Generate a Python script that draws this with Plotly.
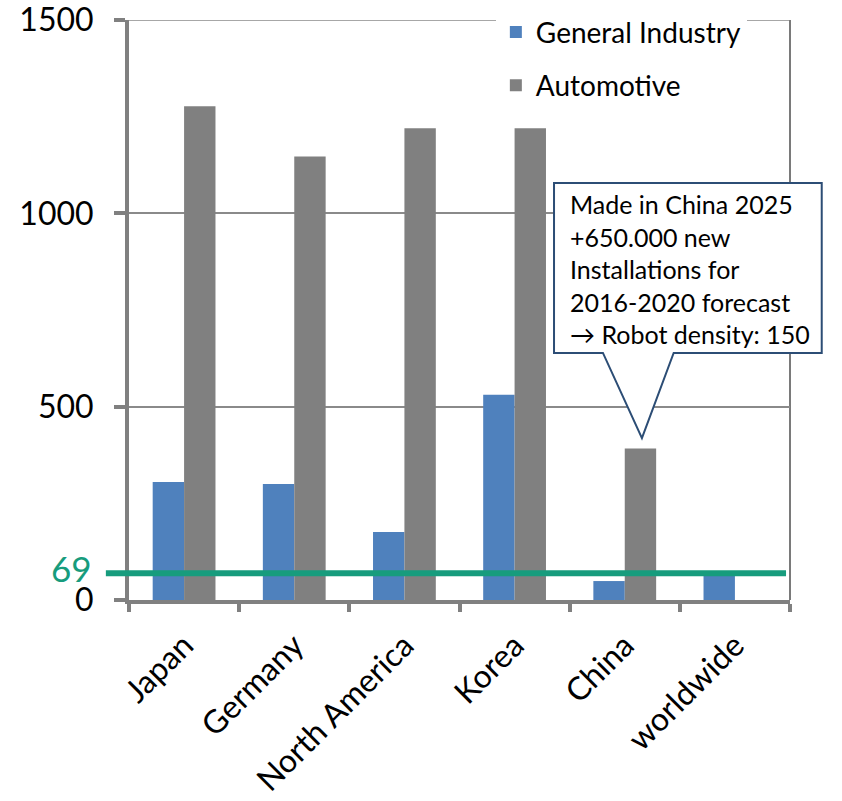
import plotly.graph_objects as go

# Robot density (robots per 10,000 employees) by region and sector
categories = ["Japan", "Germany", "North America", "Korea", "China", "worldwide"]
general_industry = [305, 300, 176, 531, 49, 69]
automotive = [1277, 1147, 1220, 1220, 392, None]
worldwide_average = 69
y_ticks = [0, 500, 1000, 1500]

callout_text = ("Made in China 2025<br>+650.000 new<br>Installations for<br>"
                "2016-2020 forecast<br>\u2192 Robot density: 150")

FONT = "Lato, Calibri, 'Open Sans', sans-serif"
BLUE = "#4F81BD"
GRAY = "#808080"
TEAL = "#179C7D"
AXIS = "#808080"
GRID = "#8a8a8a"

fig = go.Figure()
fig.add_trace(go.Bar(x=categories, y=general_industry, name="General Industry",
                     marker=dict(color=BLUE, line=dict(width=0)),
                     legendgroup="gi"))
fig.add_trace(go.Bar(x=categories, y=automotive, name="Automotive",
                     marker=dict(color=GRAY, line=dict(width=0)),
                     legendgroup="auto"))

# worldwide average reference line
fig.add_shape(type="line", xref="x domain", yref="y",
              x0=-0.035, x1=0.994, y0=worldwide_average, y1=worldwide_average,
              line=dict(color=TEAL, width=6), layer="above")
fig.add_annotation(xref="x domain", yref="y", x=-0.053, y=worldwide_average,
                   yshift=5,
                   text=str(worldwide_average), showarrow=False,
                   xanchor="right", yanchor="middle",
                   font=dict(family=FONT, size=35, color=TEAL))

# top and right frame lines
fig.add_shape(type="line", xref="x domain", yref="y",
              x0=0, x1=1, y0=1500, y1=1500,
              line=dict(color=GRID, width=1.5), layer="below")
fig.add_shape(type="line", xref="x domain", yref="y",
              x0=1, x1=1, y0=0, y1=1500,
              line=dict(color="#7a7a7a", width=2), layer="below")

# callout box with pointer towards China
bx0, bx1, by0, by1 = 0.643, 1.048, 0.426, 0.719
px0, px1, tipx, tipy = 0.717, 0.824, 0.776, 0.279
path = (f"M{bx0},{by1} L{bx1},{by1} L{bx1},{by0} L{px1},{by0} "
        f"L{tipx},{tipy} L{px0},{by0} L{bx0},{by0} Z")
fig.add_shape(type="path", xref="paper", yref="paper", path=path,
              fillcolor="white", line=dict(color="#2C4D75", width=2),
              layer="above")
fig.add_annotation(xref="paper", yref="paper", x=0.664, y=0.712,
                   text=callout_text, showarrow=False, align="left",
                   xanchor="left", yanchor="top",
                   font=dict(family=FONT, size=25, color="black"))

fig.update_layout(
    width=842, height=801,
    margin=dict(l=129, r=52, t=20, b=201, autoexpand=False),
    paper_bgcolor="white", plot_bgcolor="white",
    barmode="group", bargap=0.43, bargroupgap=0,
    font=dict(family=FONT, size=32, color="black"),
    showlegend=True,
    legend=dict(x=0.555, y=1.022, xanchor="left", yanchor="top",
                bgcolor="white", borderwidth=0,
                font=dict(family=FONT, size=28, color="black"),
                traceorder="grouped", tracegroupgap=14,
                itemwidth=30),
)

fig.update_xaxes(
    type="category",
    showline=True, linecolor=AXIS, linewidth=4,
    ticks="outside", tickson="boundaries", ticklen=8, tickwidth=4,
    tickcolor=AXIS, tickangle=-45,
    tickfont=dict(family=FONT, size=32, color="black"),
    ticklabelstandoff=10,
    showgrid=False,
)
fig.update_yaxes(
    range=[0, 1500], tickvals=y_ticks,
    showline=True, linecolor=AXIS, linewidth=4,
    ticks="outside", ticklen=11, tickwidth=4, tickcolor=AXIS,
    tickfont=dict(family=FONT, size=32, color="black"),
    ticklabelstandoff=14, ticklabeloverflow="allow",
    showgrid=True, gridcolor=GRID, gridwidth=1.5,
    zeroline=False,
)

fig.write_html("out.html")
